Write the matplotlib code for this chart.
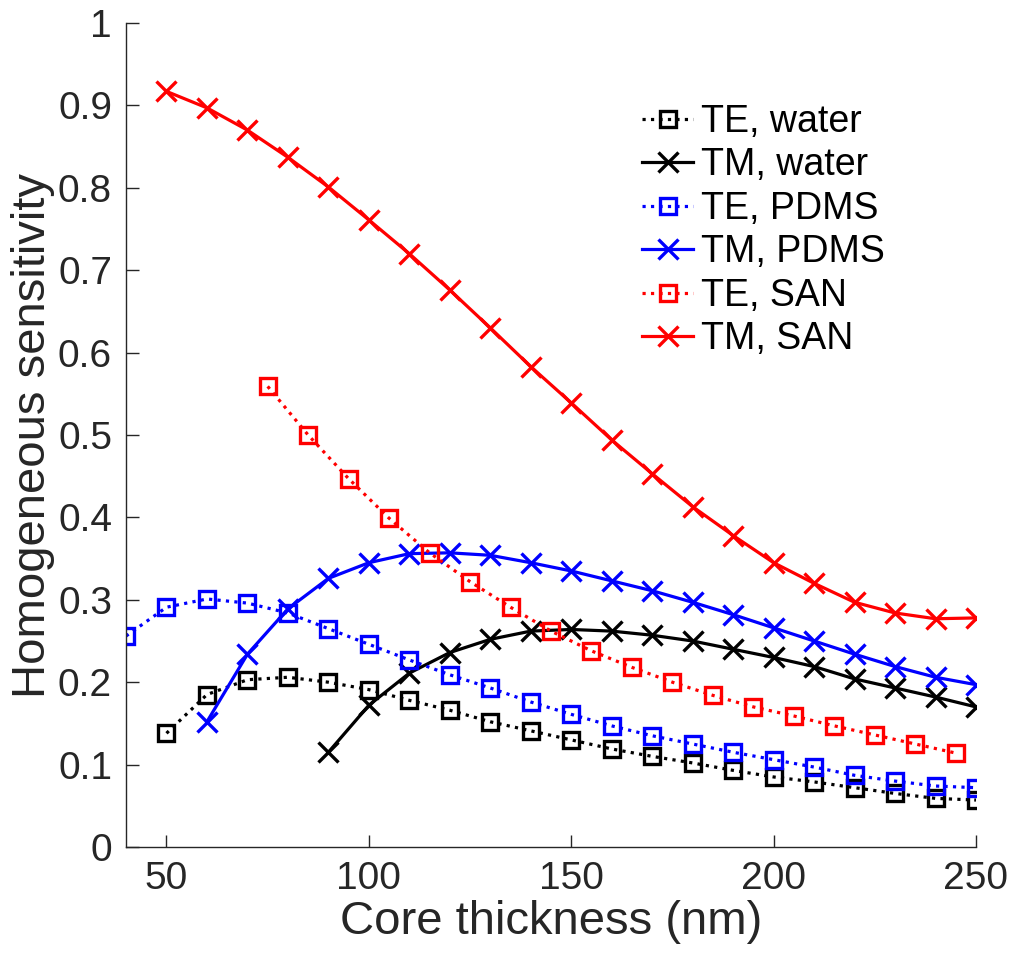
import matplotlib
matplotlib.use("Agg")
import matplotlib.pyplot as plt

plt.rcParams['font.family'] = ['Liberation Sans', 'DejaVu Sans']

# 横轴 (nm)
x_te_water = list(range(50, 251, 10))
te_water = [0.138, 0.185, 0.203, 0.206, 0.200, 0.191, 0.178, 0.166, 0.152, 0.141,
            0.130, 0.119, 0.110, 0.102, 0.093, 0.085, 0.079, 0.072, 0.065, 0.059, 0.057]

x_tm_water = list(range(90, 251, 10))
tm_water = [0.115, 0.172, 0.211, 0.236, 0.252, 0.262, 0.264, 0.262, 0.257, 0.250,
            0.240, 0.230, 0.219, 0.204, 0.193, 0.182, 0.170]

x_te_pdms = list(range(40, 251, 10))
te_pdms = [0.256, 0.291, 0.301, 0.296, 0.284, 0.265, 0.246, 0.227, 0.209, 0.193, 0.176,
           0.161, 0.147, 0.135, 0.125, 0.115, 0.106, 0.097, 0.087, 0.080, 0.074, 0.072]

x_tm_pdms = list(range(60, 251, 10))
tm_pdms = [0.152, 0.234, 0.289, 0.326, 0.345, 0.356, 0.357, 0.354, 0.345, 0.335,
           0.323, 0.311, 0.297, 0.282, 0.266, 0.250, 0.234, 0.219, 0.206, 0.197]

x_te_san = list(range(75, 246, 10))
te_san = [0.559, 0.500, 0.447, 0.399, 0.357, 0.322, 0.291, 0.262, 0.238, 0.218,
          0.200, 0.184, 0.170, 0.159, 0.147, 0.136, 0.125, 0.114]

x_tm_san = list(range(50, 251, 10))
tm_san = [0.917, 0.897, 0.870, 0.837, 0.801, 0.761, 0.720, 0.676, 0.630, 0.583, 0.539,
          0.494, 0.453, 0.413, 0.378, 0.345, 0.320, 0.297, 0.284, 0.277, 0.278]

fig = plt.figure(figsize=(10.14, 9.55), dpi=100)
ax = fig.add_axes([126 / 1014, 1 - 847 / 955, 850 / 1014, 824 / 955])

lw = 2.3
sq = dict(marker='s', markersize=11, markerfacecolor='none', markeredgewidth=2.4)
cr = dict(marker='x', markersize=15, markeredgewidth=2.4)

ax.plot(x_te_water, te_water, ':', color='black', lw=lw, label='TE, water', **sq)
ax.plot(x_tm_water, tm_water, '-', color='black', lw=lw, label='TM, water', **cr)
ax.plot(x_te_pdms, te_pdms, ':', color='blue', lw=lw, label='TE, PDMS', **sq)
ax.plot(x_tm_pdms, tm_pdms, '-', color='blue', lw=lw, label='TM, PDMS', **cr)
ax.plot(x_te_san, te_san, ':', color='red', lw=lw, label='TE, SAN', **sq)
ax.plot(x_tm_san, tm_san, '-', color='red', lw=lw, label='TM, SAN', **cr)

ax.set_xlim(40, 250)
ax.set_ylim(0, 1)
ax.set_xticks([50, 100, 150, 200, 250])
ax.set_yticks([0, 0.1, 0.2, 0.3, 0.4, 0.5, 0.6, 0.7, 0.8, 0.9, 1])
ax.set_yticklabels(['0', '0.1', '0.2', '0.3', '0.4', '0.5', '0.6', '0.7', '0.8', '0.9', '1'])

ax.spines['top'].set_visible(False)
ax.spines['right'].set_visible(False)
for s in ['left', 'bottom']:
    ax.spines[s].set_color('#262626')
    ax.spines[s].set_linewidth(1.0)
ax.tick_params(direction='in', length=9, width=1, colors='#262626', labelsize=28, pad=10)

ax.set_xlabel('Core thickness (nm)', fontsize=34, color='#262626', labelpad=2)
ax.set_ylabel('Homogeneous sensitivity', fontsize=34, color='#262626', labelpad=2)

ax.legend(loc='upper left', bbox_to_anchor=(0.59, 0.92), frameon=False, fontsize=27,
          handlelength=1.35, handletextpad=0.2, labelspacing=0.2, borderaxespad=0)

fig.savefig('out.png', dpi=100)
